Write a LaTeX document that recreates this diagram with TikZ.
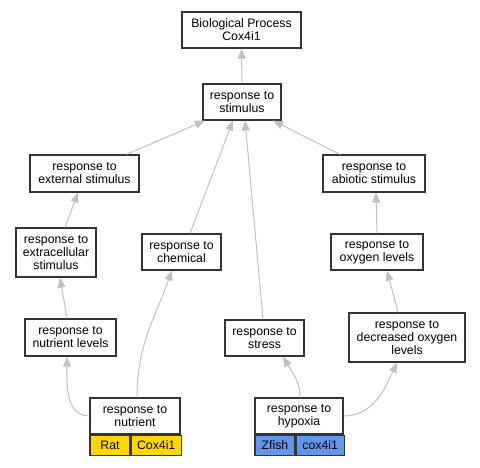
\documentclass[tikz,border=0pt]{standalone}
\usepackage{fontspec}
\setmainfont{Liberation Sans}
\usetikzlibrary{arrows.meta,positioning}
\definecolor{edgegray}{HTML}{C0C0C0}
\definecolor{ratgold}{HTML}{FFD700}
\definecolor{fishblue}{HTML}{6495ED}

\begin{document}
\begin{tikzpicture}[
	x=1pt,y=1pt,
	term/.style={draw=black!80,line width=1.2pt,fill=white,rectangle,inner sep=0pt,align=center,font=\fontsize{12.3}{13}\selectfont},
	cell/.style={term,minimum height=20pt},
	isa/.style={draw=edgegray,line width=1pt,-{Triangle[length=10pt,width=8pt]}}
	]
	\useasboundingbox (0,0) rectangle (480,467);
	
	\node[term,minimum width=119pt,minimum height=36pt] at (241.5,437) (bp) {Biological Process\\Cox4i1};
	\node[term,minimum width=78pt,minimum height=36pt] at (242,365) (stim) {response to\\stimulus};
	
	\node[term,minimum width=109pt,minimum height=37pt] at (84.5,293.5) (ext) {response to\\external stimulus};
	\node[term,minimum width=102pt,minimum height=37pt] at (374,293.5) (abio) {response to\\abiotic stimulus};
	
	\node[term,minimum width=80pt,minimum height=49pt] at (56,214.5) (extra) {response to\\extracellular\\stimulus};
	\node[term,minimum width=79pt,minimum height=36pt] at (181.5,215) (chem) {response to\\chemical};
	\node[term,minimum width=92pt,minimum height=36pt] at (377,215) (oxy) {response to\\oxygen levels};
	
	\node[term,minimum width=91pt,minimum height=37pt] at (70.5,129.5) (nutlev) {response to\\nutrient levels};
	\node[term,minimum width=79pt,minimum height=36pt] at (264.5,129) (stress) {response to\\stress};
	\node[term,minimum width=116pt,minimum height=49pt] at (407,129.5) (decr) {response to\\decreased oxygen\\levels};
	
	% annotated terms
	\node[term,minimum width=90pt,minimum height=36pt] at (135,51) (nut) {response to\\nutrient};
	\node[cell,fill=ratgold,minimum width=40pt,below right=0pt and 0pt of nut.south west] (nutrat) {Rat};
	\node[cell,fill=ratgold,minimum width=50pt,right=0pt of nutrat] (nutgene) {Cox4i1};
	
	\node[term,minimum width=88pt,minimum height=36pt] at (299,51) (hyp) {response to\\hypoxia};
	\node[cell,fill=fishblue,minimum width=40pt,below right=0pt and 0pt of hyp.south west] (hypfish) {Zfish};
	\node[cell,fill=fishblue,minimum width=48pt,right=0pt of hypfish] (hypgene) {cox4i1};
	
	\path (stim) edge[isa] (bp);
	
	\path ([xshift=42pt]ext.north) edge[isa] ([xshift=-37pt]stim.south);
	\path ([xshift=8.5pt]chem.north) edge[isa] ([xshift=-9pt]stim.south);
	\path ([xshift=-1.5pt]stress.north) edge[isa] ([xshift=3pt]stim.south);
	\path ([xshift=-34pt]abio.north) edge[isa] ([xshift=31pt]stim.south);
	
	\path ([xshift=9pt]extra.north) edge[isa] ([xshift=-6.5pt]ext.south);
	\path ([xshift=-3.5pt]nutlev.north) edge[isa] ([xshift=4pt]extra.south);
	\path (oxy.north) edge[isa] ([xshift=2pt]abio.south);
	\path ([xshift=-9pt]decr.north) edge[isa] ([xshift=10pt]oxy.south);
	
	\path (nut.west) edge[isa,out=180,in=-90] ([xshift=-3.5pt]nutlev.south);
	\path ([xshift=2pt]nut.north) edge[isa,out=90,in=-110] ([xshift=-9.5pt]chem.south);
	\path ([xshift=1pt]hyp.north) edge[isa,out=90,in=-60] ([xshift=18.5pt]stress.south);
	\path (hyp.east) edge[isa,out=0,in=-115] ([xshift=-10pt]decr.south);
\end{tikzpicture}
\end{document}
